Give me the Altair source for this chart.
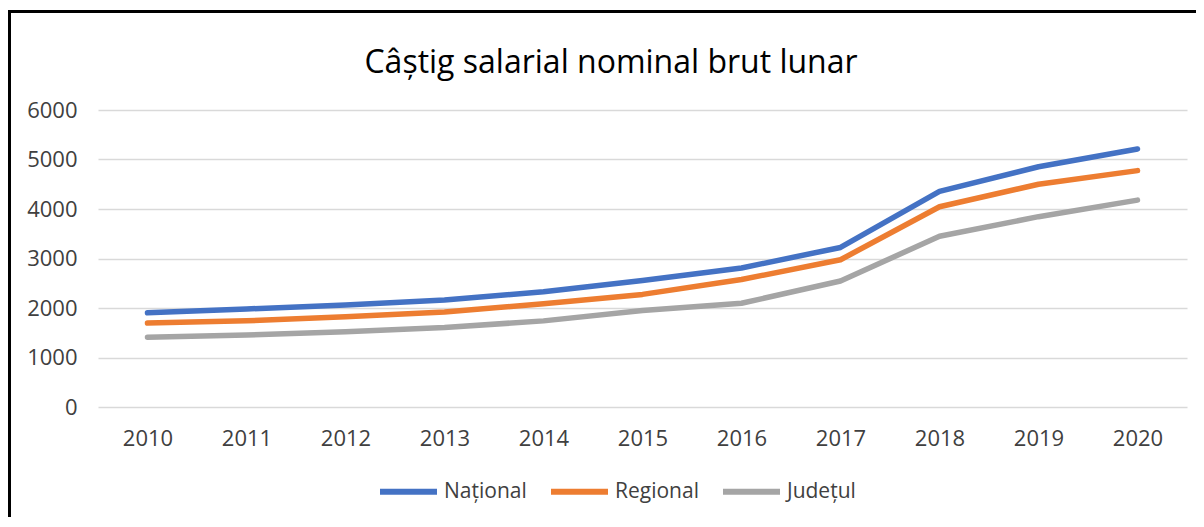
import altair as alt
import pandas as pd

years = ["2010", "2011", "2012", "2013", "2014", "2015", "2016", "2017", "2018", "2019", "2020"]
national = [1902, 1980, 2063, 2163, 2328, 2555, 2809, 3223, 4357, 4853, 5213]
regional = [1695, 1740, 1825, 1920, 2085, 2275, 2575, 2975, 4045, 4500, 4775]
judet = [1410, 1455, 1520, 1605, 1740, 1950, 2095, 2545, 3450, 3845, 4180]
series_names = ["Național", "Regional", "Județul"]
series_colors = ["#4472C4", "#ED7D31", "#A5A5A5"]
title_text = "Câștig salarial nominal brut lunar"
y_ticks = [0, 1000, 2000, 3000, 4000, 5000, 6000]

rows = []
for name, vals in zip(series_names, [national, regional, judet]):
    for yr, v in zip(years, vals):
        rows.append({"An": yr, "Valoare": v, "Serie": name})
df = pd.DataFrame(rows)

FONT = "Open Sans"
W, H = 1089, 297

lines = alt.Chart(df).mark_line(strokeWidth=5.5, strokeCap="round", strokeJoin="round").encode(
    x=alt.X("An:O", sort=years, scale=alt.Scale(type="point", padding=0.5),
            axis=alt.Axis(title=None, labelAngle=0, ticks=False, domain=False, grid=False,
                          labelPadding=21, labelFontSize=22, labelFont=FONT, labelColor="#404040")),
    y=alt.Y("Valoare:Q", scale=alt.Scale(domain=[0, 6000]),
            axis=alt.Axis(title=None, values=y_ticks, ticks=False, domain=False, grid=True,
                          gridColor="#D9D9D9", gridWidth=1.3, labelPadding=21, labelFontSize=22,
                          labelFont=FONT, labelColor="#404040", format="d")),
    color=alt.Color("Serie:N", sort=series_names,
                    scale=alt.Scale(domain=series_names, range=series_colors),
                    legend=alt.Legend(title=None, orient="none", direction="horizontal",
                                      legendX=279, legendY=350, symbolType="stroke",
                                      symbolSize=3249, symbolStrokeWidth=6, labelOffset=4,
                                      columnPadding=12, labelFontSize=21, labelFont=FONT,
                                      labelColor="#404040")),
)

title = alt.Chart(pd.DataFrame({"t": [title_text]})).mark_text(
    fontSize=32, font=FONT, color="#000000", align="center", baseline="alphabetic"
).encode(x=alt.value(513), y=alt.value(-37), text="t:N")

frame_left = alt.Chart(pd.DataFrame({"a": [0]})).mark_rule(color="#000000", strokeWidth=3).encode(
    x=alt.value(-88.5), y=alt.value(-100), y2=alt.value(420))
frame_top = alt.Chart(pd.DataFrame({"a": [0]})).mark_rule(color="#000000", strokeWidth=3).encode(
    x=alt.value(-90), x2=alt.value(1120), y=alt.value(-98.5))

chart = alt.layer(frame_left, frame_top, lines, title).properties(
    width=W, height=H,
    autosize=alt.AutoSizeParams(type="none"),
    padding={"left": 90, "top": 102, "right": 9, "bottom": 110},
    background="#FFFFFF",
).configure_view(stroke=None)

chart.save("out.html", embed_options={"renderer": "svg", "actions": False})
